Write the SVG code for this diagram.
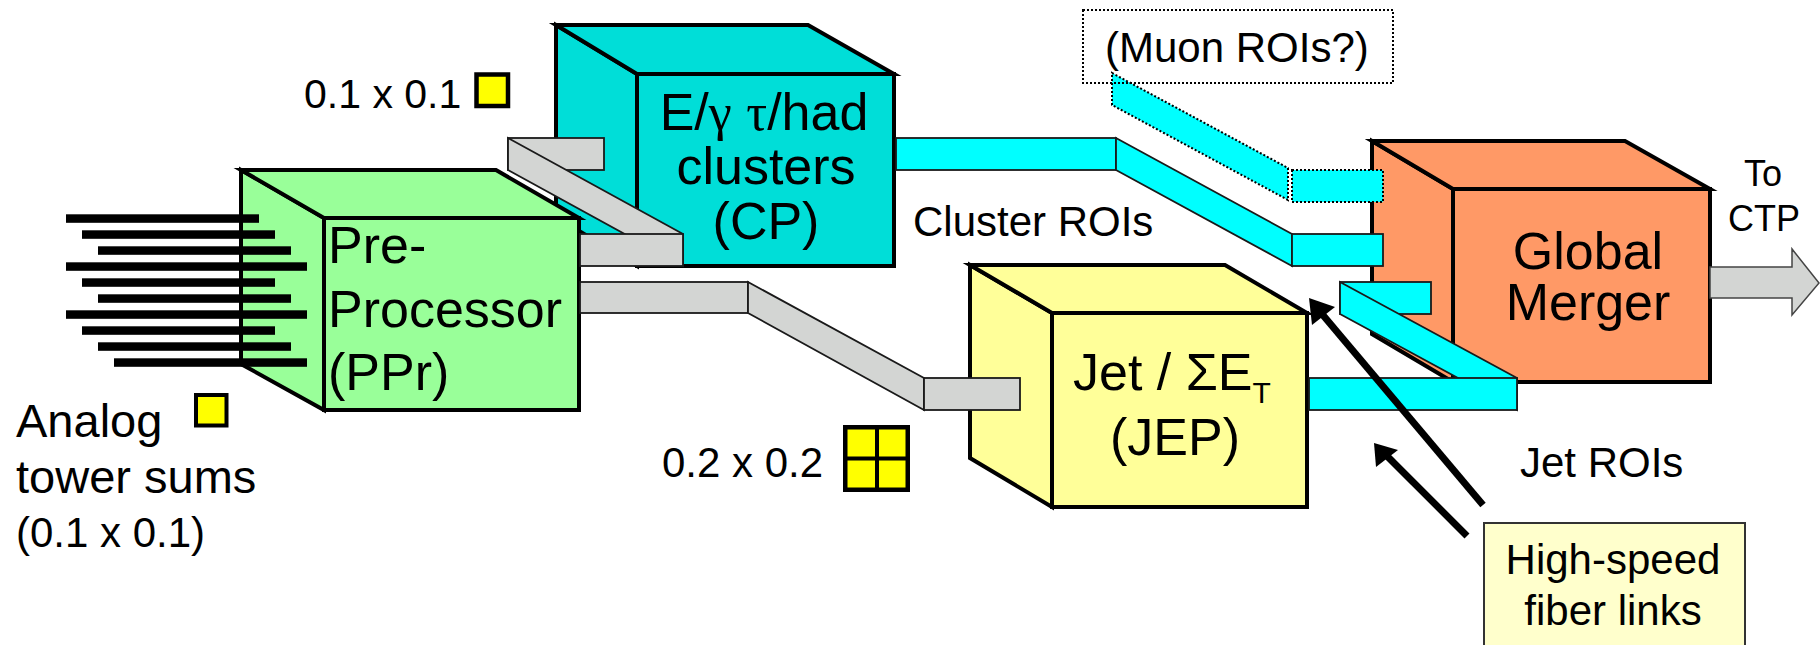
<svg xmlns="http://www.w3.org/2000/svg" width="1820" height="645" viewBox="0 0 1820 645">
<style>
.t{font-family:"Liberation Sans",Arial,sans-serif;fill:#000}
.big{font-size:52px}
.mid{font-size:42px}
.cube{stroke:#000;stroke-width:4;stroke-linejoin:miter}
.ppr{fill:#99FF99}
.cp{fill:#00DED8}
.jep{fill:#FFFF99}
.gm{fill:#FF9966}
.gray{fill:#D3D5D3;stroke:#1a1a1a;stroke-width:1.8}
.cyan{fill:#00FFFF;stroke:#1a1a1a;stroke-width:1.8}
.dot{stroke:#000;stroke-width:2;stroke-dasharray:2 2}
.ysq{fill:#FFFF00;stroke:#000}
.bar{fill:#000}
</style>
<rect width="1820" height="645" fill="#fff"/>

<g id="CP">
<polygon class="cube cp" points="556,25 637,74 637,266 556,217"/>
<polygon class="cube cp" points="556,25 808,25 894,74 637,74"/>
<rect class="cube cp" x="637" y="74" width="257" height="192"/>
<text class="t big" text-anchor="middle" x="764" y="130">E/<tspan font-family="Liberation Serif">γ</tspan> <tspan font-family="Liberation Serif">τ</tspan>/had</text>
<text class="t big" text-anchor="middle" x="766" y="184">clusters</text>
<text class="t big" text-anchor="middle" x="766" y="239">(CP)</text>
</g>

<g id="PPr">
<polygon class="cube ppr" points="241,170 324,218 324,410 241,364"/>
<polygon class="cube ppr" points="241,170 496,170 579,218 324,218"/>
<rect class="cube ppr" x="324" y="218" width="255" height="192"/>
<text class="t big" x="328" y="263">Pre-</text>
<text class="t big" x="328" y="327">Processor</text>
<text class="t big" x="328" y="390">(PPr)</text>
</g>

<g id="inputs">
<rect class="bar" x="66" y="214.3" width="193" height="8.5"/>
<rect class="bar" x="82" y="230.3" width="193" height="8.5"/>
<rect class="bar" x="98" y="246.3" width="193" height="8.5"/>
<rect class="bar" x="66" y="262.3" width="241" height="8.5"/>
<rect class="bar" x="82" y="278.3" width="193" height="8.5"/>
<rect class="bar" x="98" y="294.3" width="193" height="8.5"/>
<rect class="bar" x="66" y="310.3" width="241" height="8.5"/>
<rect class="bar" x="82" y="326.3" width="193" height="8.5"/>
<rect class="bar" x="98" y="342.3" width="193" height="8.5"/>
<rect class="bar" x="114" y="358.3" width="193" height="8.5"/>
</g>

<g id="JEP">
<polygon class="cube jep" points="970,265 1052,313 1052,507 970,458"/>
<polygon class="cube jep" points="970,265 1225,265 1307,313 1052,313"/>
<rect class="cube jep" x="1052" y="313" width="255" height="194"/>
<text class="t big" x="1073" y="390">Jet / ΣE<tspan font-size="30" dy="13">T</tspan></text>
<text class="t big" text-anchor="middle" x="1175" y="455">(JEP)</text>
</g>

<g id="GM">
<polygon class="cube gm" points="1372,141 1453,189 1453,382 1372,334"/>
<polygon class="cube gm" points="1372,141 1625,141 1710,189 1453,189"/>
<rect class="cube gm" x="1453" y="189" width="257" height="193"/>
<text class="t big" text-anchor="middle" x="1588" y="269">Global</text>
<text class="t big" text-anchor="middle" x="1588" y="320">Merger</text>
</g>

<g id="connectors">
<rect class="gray" x="508" y="138" width="96" height="32"/>
<polygon class="gray" points="508,138 683,234 683,266 508,170"/>
<rect class="gray" x="580" y="234" width="103" height="32"/>
<rect class="gray" x="580" y="282" width="168" height="31"/>
<polygon class="gray" points="748,282 924,378 924,410 748,313"/>
<rect class="gray" x="924" y="378" width="96" height="32"/>

<rect class="cyan" x="896" y="138" width="220" height="32"/>
<polygon class="cyan" points="1116,138 1292,234 1292,266 1116,170"/>
<rect class="cyan" x="1292" y="234" width="91" height="32"/>

<polygon class="dot" fill="#00FFFF" points="1112,73 1288,168 1288,200 1112,105"/>
<rect class="dot" fill="#00FFFF" x="1292" y="170" width="91" height="32"/>

<rect class="cyan" x="1340" y="282" width="91" height="32"/>
<polygon class="cyan" points="1340,282 1517,378 1517,410 1340,314"/>
<rect class="cyan" x="1309" y="378" width="208" height="32"/>

<polygon fill="#D3D5D3" stroke="#444" stroke-width="1.5" points="1710,267 1792,267 1792,249 1819,283 1792,315 1792,298 1710,298"/>

<line x1="1483" y1="505" x2="1322" y2="314" stroke="#000" stroke-width="7"/>
<polygon fill="#000" points="1309,298 1312,325 1335,307"/>
<line x1="1467" y1="536" x2="1386" y2="455" stroke="#000" stroke-width="7"/>
<polygon fill="#000" points="1374,443 1376,467 1398,450"/>
</g>

<g id="muon-box">
<rect class="dot" fill="none" x="1083" y="10" width="310" height="73"/>
<text class="t mid" x="1105" y="62">(Muon ROIs?)</text>
</g>

<g id="labels">
<text class="t" font-size="41" x="304" y="108">0.1 x 0.1</text>
<rect class="ysq" stroke-width="4.5" x="476.5" y="74.5" width="31.5" height="31.5"/>
<text class="t" font-size="47" x="16" y="437">Analog</text>
<text class="t" font-size="47" x="16" y="493">tower sums</text>
<text class="t mid" x="16" y="547">(0.1 x 0.1)</text>
<rect class="ysq" stroke-width="4" x="196" y="395" width="30.5" height="30.5"/>
<text class="t mid" x="662" y="477">0.2 x 0.2</text>
<rect class="ysq" stroke-width="4.5" x="845.25" y="427.25" width="62.5" height="62.5"/>
<line x1="877" y1="427" x2="877" y2="490" stroke="#000" stroke-width="4"/>
<line x1="845" y1="458.5" x2="908" y2="458.5" stroke="#000" stroke-width="4"/>
<text class="t mid" x="913" y="236">Cluster ROIs</text>
<text class="t mid" x="1520" y="477">Jet ROIs</text>
<text class="t" font-size="36" text-anchor="middle" x="1763" y="186">To</text>
<text class="t" font-size="36" text-anchor="middle" x="1764" y="231">CTP</text>
</g>

<g id="fiber-note">
<rect x="1484" y="523" width="261" height="135" fill="#FFFFCC" stroke="#333" stroke-width="2"/>
<text class="t mid" text-anchor="middle" x="1613" y="574">High-speed</text>
<text class="t mid" text-anchor="middle" x="1613" y="625">fiber links</text>
</g>
</svg>
